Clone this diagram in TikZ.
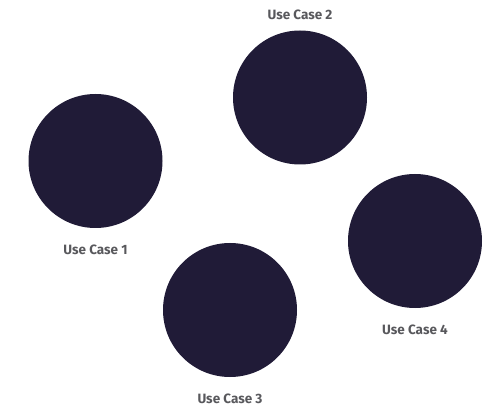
\documentclass[tikz,border=0pt]{standalone}
\usepackage{fontspec}
\setmainfont{Fira Sans}
\usetikzlibrary{positioning}
\definecolor{ucnavy}{RGB}{32,27,55}
\definecolor{ucgray}{RGB}{88,88,92}
\tikzset{
  usecase/.style={circle, fill=ucnavy, inner sep=0pt, minimum size=134pt},
  uclabel/.style={font=\bfseries\fontsize{13.5}{16}\selectfont, text=ucgray, inner sep=0pt}
}

\begin{document}
\begin{tikzpicture}[x=1pt, y=-1pt]
  \useasboundingbox (0,0) rectangle (496,409);

  % the four use cases
  \node [usecase] (uc1) at (95.5,161) {};
  \node [usecase] (uc2) at (300,97.5) {};
  \node [usecase] (uc3) at (230,310) {};
  \node [usecase] (uc4) at (415,241) {};

  % captions
  \node [uclabel, below=17pt of uc1] (l1) {Use Case 1};
  \node [uclabel, above=10pt of uc2] (l2) {Use Case 2};
  \node [uclabel, below=17pt of uc3] (l3) {Use Case 3};
  \node [uclabel, below=17pt of uc4] (l4) {Use Case 4};
\end{tikzpicture}
\end{document}
